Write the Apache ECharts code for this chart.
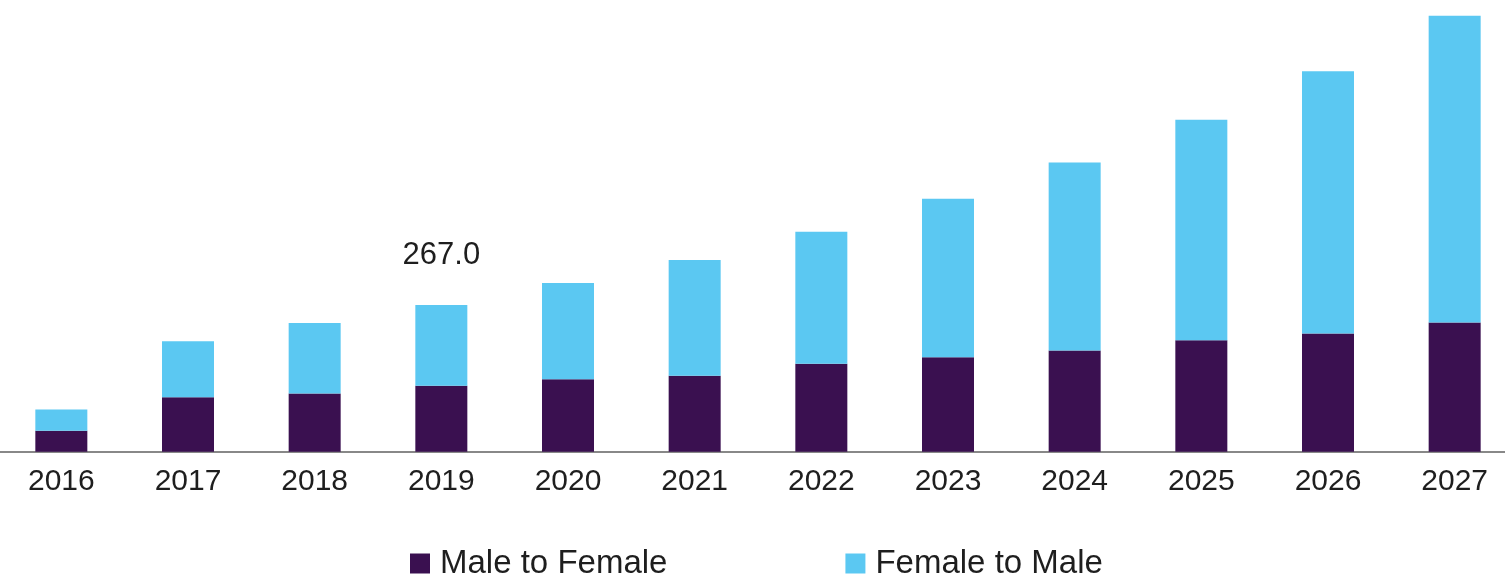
<!DOCTYPE html>
<html>
<head>
<meta charset="utf-8">
<script src="https://cdn.jsdelivr.net/npm/echarts@6/dist/echarts.min.js"></script>
<style>
html,body{margin:0;padding:0;background:#fff;}
#chart{width:1505px;height:577px;}
</style>
</head>
<body>
<div id="chart"></div>
<script>
const categories = ['2016','2017','2018','2019','2020','2021','2022','2023','2024','2025','2026','2027'];
const maleToFemale = [38, 99, 106, 120, 132, 138, 160, 172, 184, 203, 215, 235];
const femaleToMale = [39, 102, 128, 147, 175, 211, 240, 288, 342, 401, 477, 558];
const labeledIndex = 3; // 2019 total shown as 267.0

const chart = echarts.init(document.getElementById('chart'));
const font = 'Liberation Sans, Arial, sans-serif';

const topData = femaleToMale.map((v, i) => {
  if (i === labeledIndex) {
    return {
      value: v,
      label: {
        show: true,
        position: 'top',
        distance: 34,
        fontSize: 31,
        fontFamily: font,
        color: '#1e1e1e',
        formatter: () => (maleToFemale[i] + femaleToMale[i]).toFixed(1)
      }
    };
  }
  return v;
});

chart.setOption({
  animation: false,
  backgroundColor: '#fff',
  grid: { left: -2, width: 1520, top: 12, bottom: 125.3, containLabel: false, outerBoundsMode: 'none' },
  legend: {
    left: 405,
    top: 542,
    icon: 'rect',
    itemWidth: 20,
    itemHeight: 20,
    itemGap: 178,
    textStyle: { fontSize: 33, fontFamily: font, color: '#1e1e1e', padding: [0, 0, 0, 5] },
    data: ['Male to Female', 'Female to Male']
  },
  xAxis: {
    type: 'category',
    data: categories,
    axisLine: { show: true, lineStyle: { color: '#888', width: 2 } },
    axisTick: { show: false },
    axisLabel: { fontSize: 30, fontFamily: font, color: '#1e1e1e', margin: 15 }
  },
  yAxis: {
    type: 'value',
    min: 0,
    max: 800,
    show: false,
    splitLine: { show: false }
  },
  series: [
    {
      name: 'Male to Female',
      type: 'bar',
      stack: 'total',
      barWidth: 52,
      itemStyle: { color: '#3a1050' },
      data: maleToFemale
    },
    {
      name: 'Female to Male',
      type: 'bar',
      stack: 'total',
      barWidth: 52,
      itemStyle: { color: '#5bc8f2' },
      data: topData
    }
  ]
});
</script>
</body>
</html>
